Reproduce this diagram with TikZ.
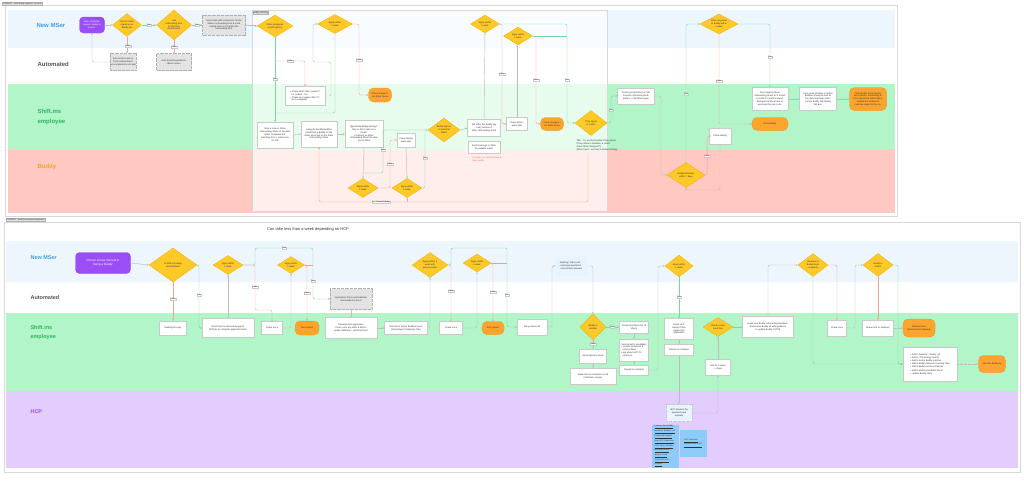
\documentclass[tikz,border=0pt]{standalone}
\usepackage{fontspec}
\setmainfont{Liberation Sans}
\newfontfamily\dejavu{DejaVu Sans}
\usetikzlibrary{shapes.geometric,arrows.meta}
\definecolor{laneB}{HTML}{EDF5FD}
\definecolor{laneG}{HTML}{B2F5C9}
\definecolor{laneR}{HTML}{FFC8C0}
\definecolor{laneP}{HTML}{E3CDFE}
\definecolor{txB}{HTML}{3AA0F0}
\definecolor{txG}{HTML}{2BB65B}
\definecolor{txO}{HTML}{F5A524}
\definecolor{txP}{HTML}{9B4DF5}
\definecolor{txK}{HTML}{555555}
\definecolor{txD}{HTML}{333333}
\definecolor{diaF}{HTML}{FFC928}
\definecolor{diaB}{HTML}{EDB100}
\definecolor{orF}{HTML}{FFA52E}
\definecolor{orB}{HTML}{E8901A}
\definecolor{puF}{HTML}{9B4EF5}
\definecolor{grF}{HTML}{E3E3E3}
\definecolor{grB}{HTML}{B0B0B0}
\definecolor{bxB}{HTML}{C9C9C9}
\definecolor{arG}{HTML}{7ED69A}
\definecolor{arR}{HTML}{F5A398}
\definecolor{arK}{HTML}{BDBDBD}
\definecolor{arBl}{HTML}{5AAEEF}
\definecolor{stick}{HTML}{8DCBFB}
\definecolor{meetF}{HTML}{E7F3FD}
\definecolor{frB}{HTML}{D8D8D8}
\definecolor{redT}{HTML}{F26B5B}
\begin{document}
\begin{tikzpicture}[x=1pt,y=-1pt,
 tx/.style={font=\fontsize{2.3}{2.9}\selectfont, align=center, text=txD},
 wb/.style 2 args={tx, rectangle, draw=bxB, line width=0.3pt, fill=white, inner sep=0.3pt, minimum width=#1pt, minimum height=#2pt},
 gb/.style 2 args={wb={#1}{#2}, fill=grF, draw=grB, dash pattern=on 0.8pt off 0.5pt},
 ob/.style 2 args={tx, rectangle, rounded corners=5pt, draw=orB, fill=orF, line width=0.3pt, inner sep=0.3pt, minimum width=#1pt, minimum height=#2pt},
 pb/.style 2 args={tx, text=white, rectangle, rounded corners=4pt, draw=puF, fill=puF, inner sep=0.3pt, minimum width=#1pt, minimum height=#2pt},
 dm/.style 2 args={tx, diamond, draw=diaB, fill=diaF, line width=0.3pt, inner sep=0pt, shape aspect=1.5, minimum width=#1pt, minimum height=#2pt},
 ar/.style={line width=0.45pt, rounded corners=2pt, -{Stealth[length=2pt,width=1.8pt]}},
 gA/.style={ar, draw=arG}, rA/.style={ar, draw=arR}, kA/.style={ar, draw=arK}, bA/.style={ar, draw=arBl},
 gL/.style={line width=0.45pt, rounded corners=2pt, draw=arG},
 rL/.style={line width=0.45pt, rounded corners=2pt, draw=arR},
 lab/.style={fill=white, draw=bxB, line width=0.15pt, inner sep=0.4pt, font=\fontsize{2}{2.2}\selectfont, text=txD},
 lane/.style={anchor=west, align=left, font=\fontsize{6}{10}\selectfont\bfseries},
 lane2/.style={anchor=west, align=left, font=\fontsize{5.5}{9}\selectfont\bfseries},
 tag/.style={anchor=west, fill=grF, draw=grB, line width=0.2pt, inner sep=0.5pt, font=\fontsize{2}{2.2}\selectfont, text=txD}
]
\useasboundingbox (0,0) rectangle (1024,482);
\fill[white] (0,0) rectangle (1024,482);

% ================= TOP FRAME =================
\draw[frB, line width=0.3pt, fill=white] (5,5) rectangle (897,216);
\fill[laneB] (8,10) rectangle (895,48);
\fill[laneG] (8,84) rectangle (895,150);
\fill[laneR] (8,150) rectangle (895,213);
\fill[white, opacity=0.7] (252,10) rectangle (607,211);
\draw[frB, line width=0.3pt] (252,10) rectangle (607,211);
\node[tag] (tagA) at (2,3.5) {CURRENT - After Buddy requests - process};
\node[tag] (tagM) at (253,13) {Buddy matching};

\node[lane, text=txB] (lnA) at (33,25) {New MSer};
\node[lane, text=txK] (lnB) at (34,64) {Automated};
\node[lane, text=txG] (lnC) at (34,117) {Shift.ms\\employee};
\node[lane, text=txO] (lnD) at (34,167) {Buddy};

% top nodes
\node[pb={25}{16}] (t_start) at (92,25) {After 1st Buddy\\request, Buddy is\\found {\dejavu ✓}};
\node[dm={29}{23}] (t_d1) at (127,25) {Has the MSer\\signed up to\\Buddy yet};
\node[dm={35}{30}] (t_d2) at (174,25) {Last\\onboarding form\\on the form\\(final boxes)};
\node[gb={43}{20}] (t_b1) at (224,25) {Auto Email with instructions for the\\MSer's onboarding form \& a link\\asking them to complete the\\onboarding form};
\node[dm={36}{22}] (t_d3) at (275,26) {MSer completes\\matching form};
\node[gb={25}{17}] (t_a1) at (123,62) {Auto email to ask to\\finish onboarding if\\not completed \& no reply};
\node[gb={35}{17}] (t_a2) at (174,62) {Auto Email forwarded to\\MSer's inbox};
\node[wb={40}{19}, align=left] (t_c1) at (305,96) {• Chase MSer after 1 week if\\\ \ no contact - 1st\\• Chase up 2 weeks after if it\\\ \ isn't completed};
\node[dm={35}{19}] (t_d4) at (335,24) {Apply within\\1 week};
\node[ob={23}{14}] (t_end1) at (380,95) {Chase stopped >\\Let MSer Know};
\node[wb={36}{26}] (t_note) at (275,135) {Note a note on MSer\\Onboarding Sheet of the date\\MSer completed the\\matching form + make sure\\it's OK};
\node[wb={36}{26}] (t_using) at (319,134) {Using the Buddy Buddies\\(Data) find a Buddy for the\\MSer and input on the MSer\\Onboarding Sheet};
\node[wb={38}{27}] (t_pot) at (364,134) {@potential Buddy asking if\\they're OK to take on a\\match;\\Comment on MSer\\Onboarding Sheet the date\\you've filled};
\node[wb={18}{14}] (t_chb) at (406,140) {Chase Buddy\\week later};
\node[dm={32}{24}] (t_ba) at (444,130) {Buddy agrees\\to potential\\Match};
\node[dm={30}{19}] (t_b1d) at (363,188) {Reply within\\1 week};
\node[dm={30}{19}] (t_b2d) at (407,188) {Reply within\\1 week};
\node[wb={33}{17}] (t_tell) at (484,128) {Tell MSer the Buddy (by\\1 wk) mention in\\MSer Onboarding sheet};
\node[wb={32}{12}] (t_send) at (484,147) {Send message to MSer\\No suitable match};
\node[tx, text=redT, align=left, anchor=north west] (t_red) at (469,153.5) {Consider no matching found,\\from buddy};
\node[wb={21}{13}] (t_chm) at (517,124) {Chase MSer -\\week later};
\node[ob={23}{13}] (t_end2) at (552,124) {Chase stopped >\\Let MSer Know};
\node[dm={32}{25}] (t_agree) at (591,123) {They agree\\to match};
\node[tx, align=left, anchor=north west] (t_tbc) at (573,136.5) {TBC - Try another Buddy if they refuse.\\If they refuse 2 Buddies, a check\\chase MSer Stopped(?)\\(MSer says) - we have a limited strategy};
\node[dm={29}{18}] (t_d5) at (485,24) {Apply within\\1 week};
\node[dm={29}{18}] (t_d6) at (518,36) {Apply within\\1 week};
\node[wb={37}{16}] (t_create) at (636,96) {Create (prospective) on MS\\Function introducing both\\parties + mail MSer given};
\node[dm={38}{20}] (t_d7) at (719,24) {MSer responds\\to Buddy within\\1 week};
\node[dm={38}{25}] (t_bv) at (686,175) {Buddy/Volunteer\\within 7 days};
\node[wb={22}{16}] (t_chb2) at (720,136) {Chase Buddy};
\node[wb={36}{23}] (t_auto) at (770,99) {Auto-Email to MSer\\Onboarding Sheet for 1 month\\to mark it 3 months ahead.\\Background Sheet and so\\we know they are to do.};
\node[wb={37}{23}] (t_sent) at (818,99) {Sent name of MSer to Active\\Buddies Sheet (as well as\\the date matched) under\\current Buddy Tab Buddy\\Tab Bus.};
\node[ob={37}{23}] (t_endn) at (868,99) {Note Buddy and potential\\set reminder, onboarding to\\the 1 tab (12m) follow Sheet\\Update the number of\\matches made for the mo.};
\node[ob={36}{13}] (t_endb) at (770,124) {End (Buddy)};

% top connectors
\draw[kA] (t_start.east) -- (t_d1.west);
\draw[gA] (t_d1.east) -- (t_d2.west);
\draw[gA] (t_d2.east) -- (t_b1.west);
\draw[bA] (t_b1.east) -- (t_d3.west);
\draw[rA] (t_d1.south) -- (t_d1.south |- t_a1.north);
\draw[rA] (t_d2.south) -- (t_a2.north);
\draw[kA] (t_a1.west) -| (t_start.south);
\draw[gA] (t_d3.south) -- (t_note.north);
\coordinate (cf) at (275,61);
\draw[rA] (cf) -| (t_c1.north);
\draw[kA] (t_c1.east) -- (331,96) -- (331,62) -- (313,62) |- (t_d4.west);
\coordinate (ct) at (275,113);
\draw[gL] (t_d4.south) |- (ct);
\draw[rA] (t_d4.east) -- (359,24) |- (t_end1.west);
\draw[kA] (t_note.east) -- (t_using.west);
\draw[kA] (t_using.east) -- (t_pot.west);
\draw[kA] (t_pot.south) -- (t_b1d.north);
\coordinate (cb1) at (363,173);
\draw[gA] (cb1) -- (383,173) -- (383,130) -- (t_ba.west);
\draw[rA] (t_b1d.east) -- (390,188) |- (t_chb.west);
\draw[kA] (t_chb.south) -- (t_b2d.north);
\draw[gL] (t_b2d.east) -| (425,130);
\coordinate (ctbc) at (588,153);
\draw[rA] (ctbc) -- (588,202) -| (t_using.south);
\draw[rL] (t_b2d.south) -- (407,202);
\draw[gA] (t_ba.east) -- (t_tell.west);
\draw[kA] (t_tell.north) -- (t_d5.south);
\draw[rA] (t_d5.east) -- (502,24) |- (t_chm.west);
\draw[gA] (t_d5.east) -- (567,24) |- (t_agree.west);
\draw[kA] (t_chm.north) -- (t_chm.north |- t_d6.south);
\draw[rA] (t_d6.east) -- (536,36) |- (t_end2.west);
\draw[gL] (t_d6.east) -- (567,36);
\draw[gA] (t_agree.east) -- (611,123) |- (t_create.west);
\draw[kA] (t_create.east) -- (661,96) |- (t_bv.west);
\draw[gA] (t_bv.north) |- (t_d7.west);
\draw[rA] (t_bv.east) -- ++(2,0) |- (t_chb2.west);
\draw[kA] (t_chb2.south) -- (720,190) -| (t_bv.south);
\draw[rA] (t_d7.south) |- (t_endb.west);
\draw[gA] (t_d7.east) -| (t_auto.north);
\draw[kA] (t_auto.east) -- (t_sent.west);
\draw[kA] (t_sent.east) -- (t_endn.west);

% top labels
\node[lab] (l1) at (149,25) {True};
\node[lab] (l2) at (197,25) {True};
\node[lab] (l3) at (128,46) {False};
\node[lab] (l4) at (174,47) {False};
\node[lab] (l5) at (275,79) {True};
\node[lab] (l6) at (290,61) {False};
\node[lab] (l7) at (359,60) {False};
\node[lab] (l8) at (383,150) {True};
\node[lab] (l9) at (390,164) {False};
\node[lab] (l10) at (425,158) {True};
\node[lab] (l11) at (381,202) {No - Chase Buddies};
\node[lab] (l12) at (502,74) {False};
\node[lab] (l13) at (567,80) {True};
\node[lab] (l14) at (536,80) {False};
\node[lab] (l15) at (611,110) {True};
\node[lab] (l16) at (686,94) {True};
\node[lab] (l17) at (707,156) {False};
\node[lab] (l18) at (719,81) {False};
\node[lab] (l19) at (770,57) {True};

% ================= BOTTOM FRAME =================
\draw[frB, line width=0.3pt, fill=white] (4,222) rectangle (1020,472);
\fill[laneB] (6,241) rectangle (1018,282);
\fill[laneG] (6,313) rectangle (1018,391);
\fill[laneP] (6,391) rectangle (1018,468);
\node[tag] (tagB) at (6,219.5) {CURRENT - Buddy recruitment/registration};
\node[font=\fontsize{4}{5}\selectfont, text=txD] (note) at (308,229) {Can take less than a week depending on HCP};

\node[lane2, text=txB] (lnE) at (27,258) {New MSer};
\node[lane2, text=txK] (lnF) at (27,298) {Automated};
\node[lane2, text=txG] (lnG) at (27,332.5) {Shift.ms\\employee};
\node[lane2, text=txP] (lnH) at (27,412) {HCP};

\node[pb={55}{21}, font=\fontsize{3}{3.8}\selectfont] (b_start) at (103,263) {Person shows interest in\\being a Buddy};
\node[dm={48}{34}, shape aspect=1.4] (b_q1) at (173,265) {Is Shift.ms taking\\new Buddies?};
\node[wb={27}{14}] (b_wait) at (173,328) {Waiting list copy};
\node[wb={52}{19}] (b_sendint) at (228,328) {Send them to interested page of\\Shift.ms to complete application form};
\node[dm={30}{19}] (b_q2) at (228,265) {Apply within\\1 week};
\node[wb={21}{13}] (b_chase1) at (272,328) {Chase once};
\node[dm={27}{17}] (b_q3) at (291,265) {Apply within\\1 week};
\node[ob={24}{14}] (b_end1) at (307,328) {End request};
\node[gb={42}{21}] (b_app) at (351,299) {Application forms automatically\\downloaded to Excel};
\node[wb={52}{21}] (b_rec) at (351,328) {Reviews final application\\forms, note any skills \& add to\\buddy database + preferred host};
\node[wb={43}{13}] (b_active) at (406,328) {Record on Active Buddies Excel\\(Recruitment Underway Tab)};
\node[dm={36}{25}] (b_q4) at (430,265) {Apply within 1\\week with\\previous data};
\node[wb={23}{13}] (b_chase2) at (451,328) {Chase once};
\node[dm={28}{18}] (b_q5) at (477,263) {Apply within\\1 week};
\node[ob={22}{13}] (b_end2) at (493,328) {End request};
\node[wb={30}{16}] (b_video) at (532,327) {Setup video call};
\node[wb={31}{18}, fill=meetF, draw=meetF, align=left] (b_meet) at (571,266) {Meeting / Video call\\• Interview questions\\• record their answers};
\node[dm={26}{26}, shape aspect=1] (b_q6) at (593,327) {Buddy is\\suitable};
\node[wb={29}{12}] (b_createq) at (634,327) {Create Questions for HI\\check};
\node[wb={29}{22}, align=left] (b_email) at (634,350) {Send email to candidate:\\• Include Questions \&\\\ \ chosen dates\\• ask about HCP for\\\ \ reference};
\node[wb={29}{10}] (b_rechub) at (634,370) {Record on Hubspot};
\node[wb={27}{14}] (b_rej) at (593,356) {Send rejection email};
\node[wb={46}{16}] (b_note) at (593,376) {Make note on Hubspot record\\(Volunteer House)};
\node[dm={28}{22}] (b_q7) at (679,266) {Reply within\\1 week};
\node[wb={29}{21}] (b_emhcp) at (679,329) {Email HCP\\asking if they\\support the\\application};
\node[wb={29}{11}] (b_rechub2) at (679,350) {Record on Hubspot};
\node[wb={26}{17}, fill=meetF, draw=bxB, dash pattern=on 0.8pt off 0.5pt] (b_hcp) at (679,413) {HCP answers the\\questions and\\uploads};
\node[wb={25}{16}] (b_wait1) at (718,367) {wait for 1 week\\+ chase};
\node[dm={30}{19}] (b_q8) at (718,327) {Checks came\\back fine};
\node[wb={51}{21}] (b_emnew) at (768,327) {Email new Buddy onboarding feedback,\\documents Buddy kit with guidance\\to update Buddy CV/TM};
\node[dm={30}{23}] (b_q9) at (813,265) {Receives a\\Buddy book\\complete};
\node[wb={19}{16}] (b_chase3) at (837,328) {Chase once};
\node[dm={30}{23}] (b_q10) at (878,265) {Ready to\\match};
\node[wb={31}{16}] (b_mkhub) at (878,328) {Make note on Hubspot};
\node[ob={32}{18}] (b_remove) at (919,328) {Remove from\\Recruitment Underway};
\node[wb={54}{34}, align=left, font=\fontsize{2.3}{3.2}\selectfont] (b_list) at (930,364) {• Add to Network - Buddy List\\• Add to 'The Energy Seeds'\\• Add to active Buddy matches\\• Add to Buddy Network Tracking Data\\• Add to Buddy email contact list\\• Add to Buddy Feedback Excel\\• Update Buddy Stats};
\node[ob={27}{17}] (b_startbud) at (992,364) {Start the Buddying};
\node[wb={26}{33}, fill=stick, draw=stick, align=left, font=\fontsize{2}{2.9}\selectfont] (s1) at (665,446) {\underline{Learning from Buddy}\\\underline{feedback: Buddy 1 to 2}\\\underline{people with support}\\\underline{from HCP, Volunteers}\\\underline{(HCP only) - Buddies}\\\underline{interested in one}\\\underline{thing at a time}\\\underline{check with HCP}\\\underline{contacts}};
\node[wb={26}{26}, fill=stick, draw=stick, align=left, anchor=north, font=\fontsize{2}{2.9}\selectfont] (s2) at (693,430) {\underline{HCP reference}\\\underline{process since 2022}};

% bottom connectors
\draw[kA] (b_start.east) -- (b_q1.west);
\draw[rA] (b_q1.south) -- (b_wait.north);
\draw[gA] (b_q1.east) -- (199,265) |- (b_sendint.west);
\draw[kA] (b_sendint.north) -- (b_q2.south);
\draw[rA] (b_q2.east) -- (255,265) -- (255,310) -| (b_chase1.north);
\draw[gA] (b_q2.east) -- (255,265) -- (255,248) -- (313,248) |- (b_app.west);
\draw[kA] (b_chase1.east) -| (b_q3.south);
\draw[rA] (b_q3.east) -| (b_end1.north);
\draw[gL] (b_q3.east) -- (313,265);
\draw[kA] (b_app.south) -- (b_rec.north);
\draw[kA] (b_rec.east) -- (b_active.west);
\draw[kA] (b_active.east) -| (b_q4.south);
\draw[rA] (b_q4.east) -| (b_chase2.north);
\draw[gA] (b_q4.east) -- (451,265) -- (451,248) -- (507,248) |- (b_video.west);
\draw[kA] (b_chase2.east) -| (b_q5.south);
\draw[rA] (b_q5.east) -| (b_end2.north);
\draw[gL] (b_q5.east) -- (507,263);
\draw[kA] (b_video.east) -- (552,327) |- (b_meet.west);
\draw[kA] (b_meet.east) -| (b_q6.north);
\draw[gA] (b_q6.east) -- (b_createq.west);
\draw[rA] (b_q6.south) -- (b_rej.north);
\draw[kA] (b_rej.south) -- (b_note.north);
\draw[kA] (b_createq.south) -- (b_email.north);
\draw[kA] (b_email.south) -- (b_rechub.north);
\draw[kA] (b_rechub.east) -- (658,370) |- (b_q7.west);
\draw[gA] (b_q7.south) -- (b_emhcp.north);
\draw[kA] (b_emhcp.south) -- (b_rechub2.north);
\draw[kA] (b_rechub2.south) -- (b_hcp.north);
\draw[kA] (b_hcp.east) -| (b_wait1.south);
\draw[kA] (b_wait1.north) -- (b_q8.south);
\draw[gA] (b_q8.east) -- (b_emnew.west);
\draw[kA] (b_emnew.north) |- (b_q9.west);
\draw[rA] (b_q9.east) -| (b_chase3.north);
\draw[kA] (b_chase3.east) -- (855,328) |- (b_q10.west);
\draw[rA] (b_q10.south) -- (b_mkhub.north);
\draw[kA, dash pattern=on 0.8pt off 0.5pt] (b_mkhub.east) -- (b_remove.west);
\draw[gA] (b_q9.south) |- (b_list.west);
\draw[gA] (b_q10.east) -- (898,265) |- (b_list.west);
\draw[kA, dash pattern=on 0.8pt off 0.5pt] (b_list.east) -- (b_startbud.west);

% bottom labels
\node[lab] (m1) at (173,299) {False};
\node[lab] (m2) at (199,295) {True};
\node[lab] (m3) at (255,287) {False};
\node[lab] (m4) at (284,248) {True};
\node[lab] (m5) at (313,281) {True};
\node[lab] (m6) at (307,293) {False};
\node[lab] (m7) at (451,291) {False};
\node[lab] (m8) at (493,292) {False};
\node[lab] (m9) at (507,295) {True};
\node[lab] (m10) at (612,327) {True};
\node[lab] (m11) at (593,344) {False};
\node[lab] (m12) at (679,297) {True};
\end{tikzpicture}
\end{document}
